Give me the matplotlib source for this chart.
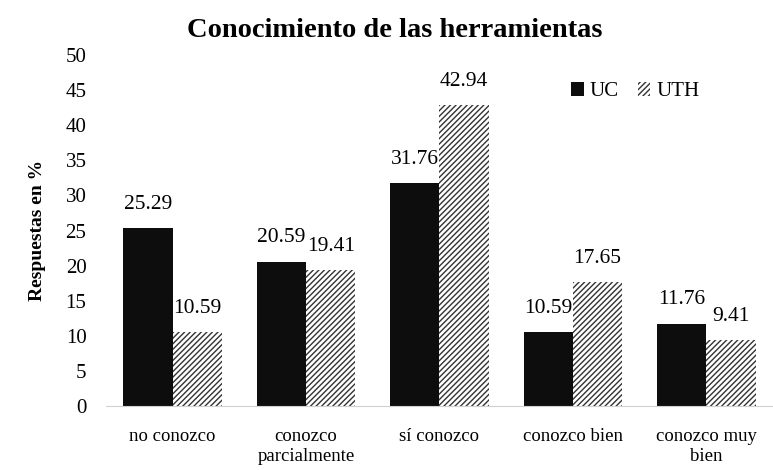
import matplotlib.pyplot as plt
import numpy as np

plt.rcParams['font.family'] = ['Liberation Serif', 'DejaVu Serif']
plt.rcParams['hatch.linewidth'] = 1.0

categories = ['no conozco', 'conozco\nparcialmente', 'sí conozco', 'conozco bien', 'conozco muy\nbien']
uc = [25.29, 20.59, 31.76, 10.59, 11.76]
uth = [10.59, 19.41, 42.94, 17.65, 9.41]

x = np.arange(len(categories))
w = 0.37

fig = plt.figure(figsize=(7.73, 4.70), dpi=100)
ax = fig.add_axes([0.137, 0.136, 0.863, 0.747])

b1 = ax.bar(x - w/2, uc, w, color='#0d0d0d', label='UC')
b2 = ax.bar(x + w/2, uth, w, color='white', edgecolor='#333333', hatch='//////', linewidth=0, label='UTH')

for bars, vals in [(b1, uc), (b2, uth)]:
    for b, v in zip(bars, vals):
        ax.text(b.get_x() + b.get_width()/2, v + 2.0, f'{v:.2f}', ha='center', va='bottom', fontsize=15.5)

ax.set_xlim(-0.5, len(categories) - 0.5)
ax.set_ylim(0, 50)
ax.set_yticks(np.arange(0, 55, 5))
ax.set_xticks(x)
ax.set_xticklabels(categories, fontsize=13.5)
ax.tick_params(axis='y', length=0, labelsize=15, pad=14)
ax.tick_params(axis='x', length=0, pad=16)
for s in ['top', 'right', 'left']:
    ax.spines[s].set_visible(False)
ax.spines['bottom'].set_color('#d0d0d0')

ax.set_ylabel('Respuestas en %', fontsize=14, fontweight='bold', labelpad=14)
fig.text(0.511, 0.936, 'Conocimiento de las herramientas', fontsize=20.5, fontweight='bold',
         ha='center', va='center')

ax.legend(loc='center left', bbox_to_anchor=(0.685, 0.895), ncol=2, frameon=False, fontsize=15,
          handlelength=0.6, handleheight=0.6, handletextpad=0.3, columnspacing=0.9, borderaxespad=0)

fig.savefig('out.png', dpi=100)
